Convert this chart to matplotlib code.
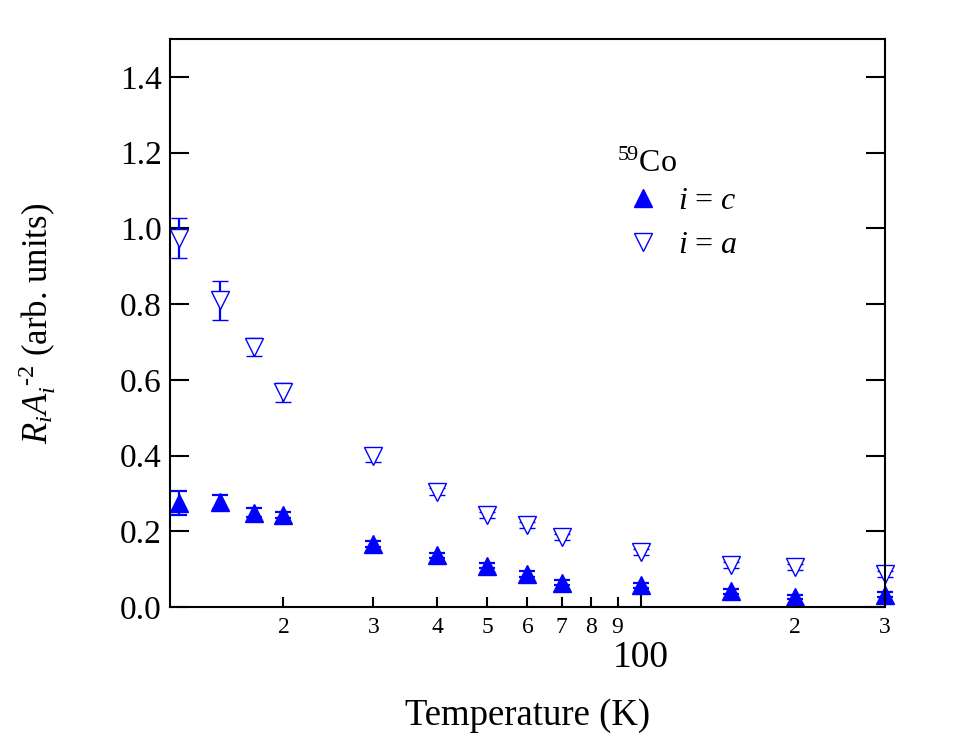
import matplotlib
matplotlib.use('Agg')
import matplotlib.pyplot as plt
from matplotlib.lines import Line2D
from matplotlib.ticker import FixedLocator, FuncFormatter

plt.rcParams['font.family'] = ['Liberation Serif', 'DejaVu Serif']
plt.rcParams['mathtext.fontset'] = 'custom'
plt.rcParams['mathtext.rm'] = 'Liberation Serif'
plt.rcParams['mathtext.it'] = 'Liberation Serif:italic'

# data
temp = [12.5, 15, 17.5, 20, 30, 40, 50, 60, 70, 100, 150, 200, 300]
r_c = [0.276, 0.278, 0.250, 0.244, 0.168, 0.137, 0.110, 0.088, 0.065, 0.058, 0.042, 0.027, 0.033]
err_c = [0.032, 0.019, 0.012, 0.008, 0.008, 0.007, 0.007, 0.007, 0.007, 0.007, 0.006, 0.006, 0.006]
r_a = [0.975, 0.810, 0.686, 0.568, 0.400, 0.305, 0.243, 0.217, 0.185, 0.146, 0.112, 0.106, 0.088]
err_a = [0.053, 0.052, 0.024, 0.025, 0.017, 0.010, 0.008, 0.008, 0.008, 0.008, 0.008, 0.008, 0.008]
minor_ticks = [20, 30, 40, 50, 60, 70, 80, 90, 200, 300]
minor_labels = ['2', '3', '4', '5', '6', '7', '8', '9', '2', '3']

blue = '#0000ff'

fig = plt.figure(figsize=(9.71, 7.36), dpi=100)
ax = fig.add_axes([0.175, 0.175, 0.7365, 0.772])

eb_a = ax.errorbar(temp, r_a, yerr=err_a, fmt='v', ms=13, mfc='white', mec=blue,
                   mew=1.0, color=blue, ecolor=blue, elinewidth=1.6, capsize=6, capthick=1.6)
eb_c = ax.errorbar(temp, r_c, yerr=err_c, fmt='^', ms=13, mfc=blue, mec=blue,
                   color=blue, ecolor=blue, elinewidth=1.6, capsize=6, capthick=1.6)
for eb in (eb_a, eb_c):
    for art in eb.get_children():
        art.set_clip_on(False)

ax.set_xscale('log')
ax.set_xlim(12, 300)
ax.set_ylim(0, 1.5)

# x ticks: 100 as major, single digits on the minor ticks
ax.xaxis.set_major_locator(FixedLocator([100]))
ax.xaxis.set_major_formatter(FuncFormatter(lambda v, p: '100'))
ax.xaxis.set_minor_locator(FixedLocator(minor_ticks))
ax.xaxis.set_minor_formatter(FuncFormatter(lambda v, p: minor_labels[p] if p is not None and p < len(minor_labels) else ''))

ax.set_yticks([0.0, 0.2, 0.4, 0.6, 0.8, 1.0, 1.2, 1.4])
ax.yaxis.set_major_formatter(FuncFormatter(lambda v, p: '%.1f' % v))

ax.tick_params(axis='x', which='major', direction='in', length=14, width=1.5,
               labelsize=27, pad=24, top=False)
ax.tick_params(axis='x', which='minor', direction='in', length=7, width=1.5,
               labelsize=17, pad=7, top=False)
ax.tick_params(axis='y', which='major', direction='in', length=14, width=1.5,
               labelsize=24, pad=6, left=True, right=True)
ax.tick_params(axis='y', which='minor', left=False, right=False)

for s in ax.spines.values():
    s.set_linewidth(1.5)

ax.set_xlabel('Temperature (K)', fontsize=26.5)
ax.xaxis.set_label_coords(0.5, -0.16)
ax.set_ylabel(r'$R_iA_i^{\ \text{-}2}$ (arb. units)', fontsize=25)
ax.yaxis.set_label_coords(-0.157, 0.5)

# legend
ax.text(0.625, 0.766, r'$^{59}$Co', transform=ax.transAxes, fontsize=23, va='baseline')
handles = [Line2D([], [], ls='none', marker='^', ms=13, mfc=blue, mec=blue),
           Line2D([], [], ls='none', marker='v', ms=13, mfc='white', mec=blue, mew=1.0)]
ax.legend(handles, [r'$i$ = $c$', r'$i$ = $a$'], loc='upper left',
          bbox_to_anchor=(0.635, 0.740), frameon=False, fontsize=23,
          handlelength=1.2, handletextpad=0.5, labelspacing=0.45,
          borderpad=0, borderaxespad=0)

plt.savefig('out.png', dpi=100)
